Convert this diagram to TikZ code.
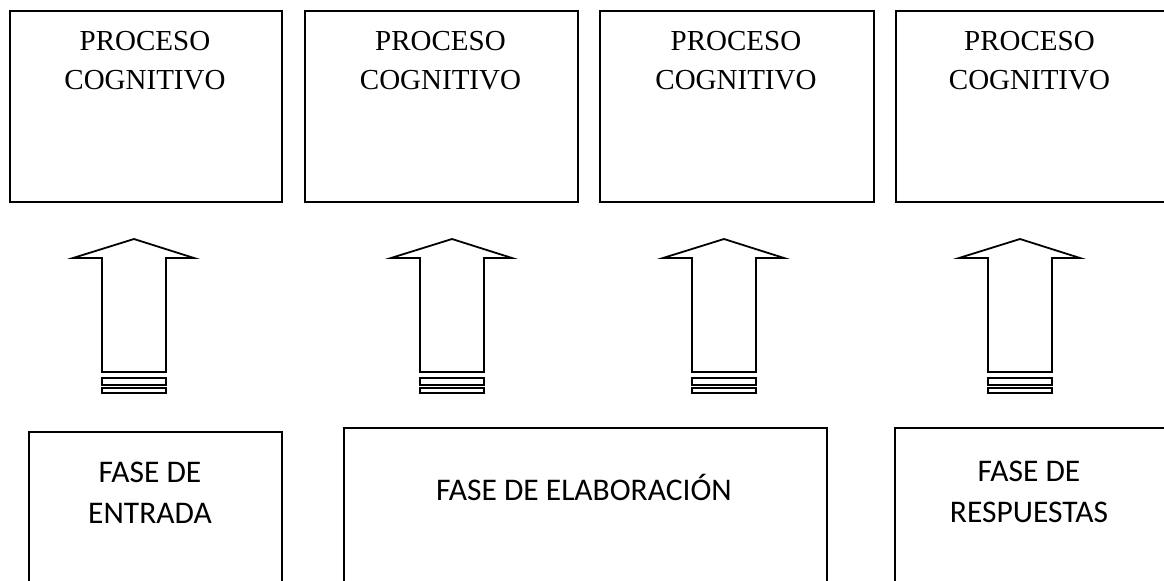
\documentclass[tikz,border=0pt]{standalone}
\usepackage{fontspec}
\setmainfont{Liberation Serif}
\newfontfamily\calibri{Carlito}

\begin{document}
\begin{tikzpicture}[x=0.5pt, y=-0.5pt,
		caja/.style={draw=black, line width=0.75pt, rectangle, inner sep=0pt, anchor=north west},
		proc/.style={font=\fontsize{14.5}{19.5}\selectfont, align=center, anchor=base, inner sep=0pt},
		fase/.style={font=\calibri\fontsize{15.75}{20.5}\selectfont, align=center, anchor=base, inner sep=0pt},
		flecha/.style={draw=black, line width=0.9pt, line join=miter}]
				\clip (0,0) rectangle (1164,580);
				% Cognitive process boxes
				\node[caja, minimum width=136pt, minimum height=95.5pt] (p1) at (9,10) {};
				\node[caja, minimum width=136.5pt, minimum height=95.5pt] (p2) at (304,10) {};
				\node[caja, minimum width=137pt, minimum height=95.5pt] (p3) at (599,10) {};
				\node[caja, minimum width=137pt, minimum height=95.5pt] (p4) at (895,10) {};
				\node[proc] (tp1) at (145,89) {PROCESO\\COGNITIVO};
				\node[proc] (tp2) at (440.5,89) {PROCESO\\COGNITIVO};
				\node[proc] (tp3) at (736,89) {PROCESO\\COGNITIVO};
				\node[proc] (tp4) at (1029.5,89) {PROCESO\\COGNITIVO};
				% Phase boxes
				\node[caja, minimum width=126.5pt, minimum height=100pt] (e1) at (28,431) {};
				\node[caja, minimum width=241.5pt, minimum height=100pt] (e2) at (343,427) {};
				\node[caja, minimum width=137pt, minimum height=100pt] (e3) at (894,427) {};
				\node[fase] (te1) at (150,523) {FASE DE\\ENTRADA};
				\node[fase] (te2) at (584,500) {FASE DE ELABORACIÓN};
				\node[fase] (te3) at (1029,522) {FASE DE\\RESPUESTAS};
				% Block arrows
				\foreach \c in {134,452,724,1020} {
					\draw[flecha] (\c,239) -- (\c+60,258) -- (\c+32,258) -- (\c+32,372) -- (\c-32,372) -- (\c-32,258) -- (\c-61,258) -- cycle;
					\draw[flecha] (\c-32,378) rectangle (\c+32,385);
					\draw[flecha] (\c-32,388) rectangle (\c+32,393);
				}
			\end{tikzpicture}
\end{document}
